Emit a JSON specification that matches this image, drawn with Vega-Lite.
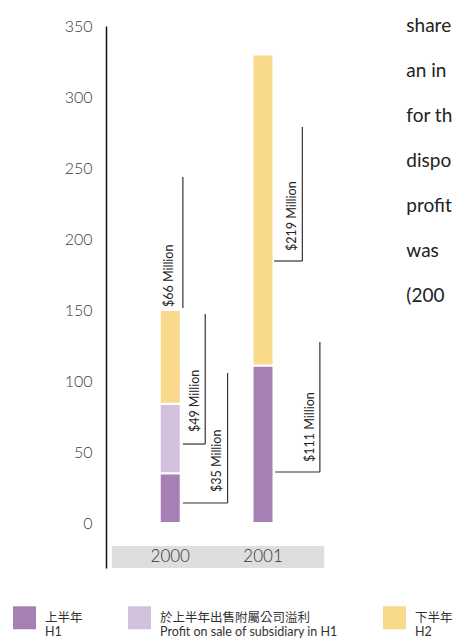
{
  "$schema": "https://vega.github.io/schema/vega-lite/v6.json",
  "width": 349,
  "height": 542,
  "autosize": {"type": "none"},
  "padding": {"left": 106, "top": 26, "right": 0, "bottom": 71},
  "background": "white",
  "config": {
    "view": {"stroke": null},
    "font": "Lato",
    "axis": {"title": null, "grid": false, "ticks": false, "domain": false, "labels": false},
    "legend": {
      "orient": "none",
      "legendX": -93,
      "legendY": 580,
      "direction": "horizontal",
      "symbolType": "square",
      "symbolSize": 529,
      "symbolStrokeWidth": 0,
      "symbolOpacity": 1,
      "labelFont": "Lato, 'Noto Sans CJK TC'",
      "labelFontSize": 12.5,
      "labelColor": "#333",
      "labelOffset": 9,
      "labelLimit": 400,
      "columnPadding": 45
    }
  },
  "datasets": {
    "bars": [
      {"year": 2000, "part": "上半年|H1", "ord": 1, "value": 35},
      {"year": 2000, "part": "於上半年出售附屬公司溢利|Profit on sale of subsidiary in H1", "ord": 2, "value": 49},
      {"year": 2000, "part": "下半年|H2", "ord": 3, "value": 66},
      {"year": 2001, "part": "上半年|H1", "ord": 1, "value": 111},
      {"year": 2001, "part": "下半年|H2", "ord": 3, "value": 219}
    ],
    "leaders": [
      {"x": 2000.136, "x2": 2000.618, "y": 14.1, "y2": 14.1},
      {"x": 2000.618, "x2": 2000.618, "y": 14.1, "y2": 105.6},
      {"x": 2000.136, "x2": 2000.377, "y": 55.6, "y2": 55.6},
      {"x": 2000.377, "x2": 2000.377, "y": 55.6, "y2": 147.2},
      {"x": 2000.136, "x2": 2000.136, "y": 151.4, "y2": 243.7},
      {"x": 2001.131, "x2": 2001.613, "y": 35.9, "y2": 35.9},
      {"x": 2001.613, "x2": 2001.613, "y": 35.9, "y2": 127.5},
      {"x": 2001.12, "x2": 2001.424, "y": 184.5, "y2": 184.5},
      {"x": 2001.424, "x2": 2001.424, "y": 184.5, "y2": 278.9}
    ],
    "notes": [
      {"label": "$35 Million", "x": 2000.503, "y": 21.8},
      {"label": "$49 Million", "x": 2000.272, "y": 64},
      {"label": "$66 Million", "x": 1999.99, "y": 152.1},
      {"label": "$111 Million", "x": 2001.508, "y": 43},
      {"label": "$219 Million", "x": 2001.309, "y": 191.5}
    ],
    "years": [{"year": 2000}, {"year": 2001}],
    "para": [{"lines": ["share", "an in", "for th", "dispo", "profit", "was", "(200"]}]
  },
  "layer": [
    {
      "data": {"values": [{}]},
      "mark": {"type": "rect", "color": "#dedede"},
      "encoding": {
        "x": {"datum": 1999.37, "type": "quantitative", "scale": {"domain": [1999.3613, 2003.0157], "nice": false, "zero": false}, "axis": null},
        "x2": {"datum": 2001.66},
        "y": {"datum": -16.2, "type": "quantitative", "scale": {"domain": [-31.69, 350], "nice": false, "zero": false}},
        "y2": {"datum": -31.69}
      }
    },
    {
      "data": {"name": "bars"},
      "mark": {"type": "bar", "width": 21, "stroke": "white", "strokeWidth": 2},
      "encoding": {
        "x": {"field": "year", "type": "quantitative", "scale": {"domain": [1999.3613, 2003.0157], "nice": false, "zero": false}, "axis": null},
        "y": {
          "field": "value", "type": "quantitative", "stack": "zero",
          "scale": {"domain": [-31.69, 350], "nice": false, "zero": false},
          "axis": {
            "values": [0, 50, 100, 150, 200, 250, 300, 350],
            "domain": true, "domainColor": "#111", "domainWidth": 1.5,
            "labels": true, "labelFont": "Lato", "labelFontSize": 16, "labelFontWeight": 300,
            "labelColor": "#3a3a3a", "labelPadding": 14, "ticks": false, "title": null
          }
        },
        "color": {
          "field": "part", "type": "nominal",
          "scale": {
            "domain": ["上半年|H1", "於上半年出售附屬公司溢利|Profit on sale of subsidiary in H1", "下半年|H2"],
            "range": ["#a680b4", "#d3c0dc", "#f9d98a"]
          },
          "legend": {"title": null, "labelExpr": "split(datum.label, '|')", "encode": {"labels": {"update": {"lineHeight": {"value": 19}}}}}
        },
        "order": {"field": "ord", "type": "quantitative"}
      }
    },
    {
      "data": {"name": "leaders"},
      "mark": {"type": "rule", "color": "#333", "strokeWidth": 1.2},
      "encoding": {
        "x": {"field": "x", "type": "quantitative", "scale": {"domain": [1999.3613, 2003.0157], "nice": false, "zero": false}, "axis": null},
        "x2": {"field": "x2"},
        "y": {"field": "y", "type": "quantitative", "scale": {"domain": [-31.69, 350], "nice": false, "zero": false}},
        "y2": {"field": "y2"}
      }
    },
    {
      "data": {"name": "notes"},
      "mark": {"type": "text", "angle": 270, "align": "left", "baseline": "middle", "fontSize": 12.5, "font": "Lato", "color": "#222"},
      "encoding": {
        "x": {"field": "x", "type": "quantitative", "scale": {"domain": [1999.3613, 2003.0157], "nice": false, "zero": false}, "axis": null},
        "y": {"field": "y", "type": "quantitative", "scale": {"domain": [-31.69, 350], "nice": false, "zero": false}},
        "text": {"field": "label", "type": "nominal"}
      }
    },
    {
      "data": {"name": "years"},
      "mark": {"type": "text", "align": "center", "baseline": "middle", "fontSize": 17, "fontWeight": 300, "font": "Lato", "color": "#333"},
      "encoding": {
        "x": {"field": "year", "type": "quantitative", "scale": {"domain": [1999.3613, 2003.0157], "nice": false, "zero": false}, "axis": null},
        "y": {"datum": -24, "type": "quantitative", "scale": {"domain": [-31.69, 350], "nice": false, "zero": false}},
        "text": {"field": "year", "type": "nominal"}
      }
    },
    {
      "data": {"name": "para"},
      "mark": {"type": "text", "align": "left", "baseline": "alphabetic", "fontSize": 19, "lineHeight": 45, "font": "Lato", "color": "#222"},
      "encoding": {
        "x": {"datum": 2002.545, "type": "quantitative", "scale": {"domain": [1999.3613, 2003.0157], "nice": false, "zero": false}, "axis": null},
        "y": {"datum": 346.1, "type": "quantitative", "scale": {"domain": [-31.69, 350], "nice": false, "zero": false}},
        "text": {"field": "lines"}
      }
    }
  ]
}
